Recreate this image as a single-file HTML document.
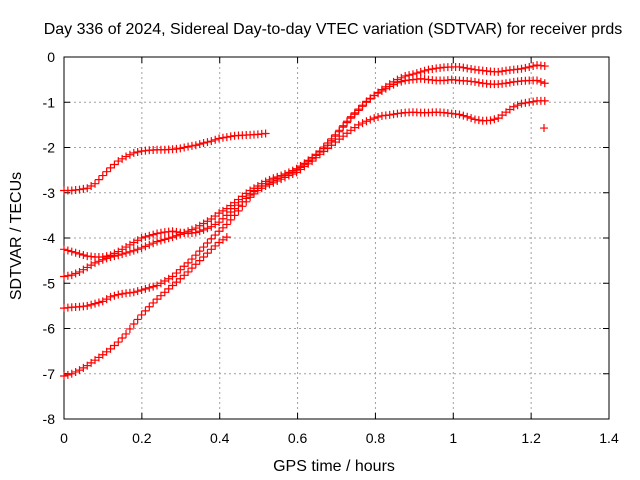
<!DOCTYPE html>
<html><head><meta charset="utf-8"><style>
body{margin:0;background:#fff}
svg{display:block;font-family:"Liberation Sans",sans-serif}
</style></head><body>
<svg id="chart" width="640" height="480">
<text x="333" y="34" text-anchor="middle" font-size="16">Day 336 of 2024, Sidereal Day-to-day VTEC variation (SDTVAR) for receiver prds</text>
<text x="334" y="471" text-anchor="middle" font-size="16">GPS time / hours</text>
<text transform="translate(21,236) rotate(-90)" text-anchor="middle" font-size="16">SDTVAR / TECUs</text>
<g id="grid"></g><g id="axes"></g><g id="marks"></g>
</svg>
<script>
const xTicks=[0,0.2,0.4,0.6,0.8,1,1.2,1.4];
const yTicks=[0,-1,-2,-3,-4,-5,-6,-7,-8];
const step=0.02;
const seriesA=[-2.95,-2.95,-2.93,-2.9,-2.8,-2.62,-2.45,-2.3,-2.2,-2.12,-2.08,-2.06,-2.05,-2.05,-2.04,-2.02,-1.98,-1.95,-1.9,-1.86,-1.8,-1.77,-1.74,-1.73,-1.72,-1.71,-1.69];
const seriesB=[-4.25,-4.3,-4.35,-4.4,-4.42,-4.42,-4.38,-4.3,-4.2,-4.1,-4.0,-3.95,-3.9,-3.87,-3.85,-3.88,-3.9,-3.88,-3.82,-3.75,-3.65,-3.5,-3.35,-3.2,-3.05,-2.9,-2.8,-2.72,-2.65,-2.58,-2.5,-2.38,-2.25,-2.1,-1.95,-1.75,-1.55,-1.35,-1.18,-1.0,-0.85,-0.72,-0.6,-0.5,-0.42,-0.38,-0.33,-0.28,-0.25,-0.23,-0.22,-0.22,-0.25,-0.28,-0.3,-0.32,-0.33,-0.3,-0.28,-0.26,-0.22,-0.18,-0.2];
const seriesC=[-4.85,-4.82,-4.75,-4.65,-4.55,-4.48,-4.42,-4.38,-4.33,-4.28,-4.22,-4.15,-4.08,-4.03,-3.98,-3.92,-3.85,-3.78,-3.68,-3.58,-3.45,-3.35,-3.22,-3.08,-2.95,-2.85,-2.75,-2.68,-2.62,-2.55,-2.47,-2.35,-2.22,-2.08,-1.9,-1.72,-1.52,-1.32,-1.15,-0.98,-0.85,-0.75,-0.65,-0.57,-0.52,-0.5,-0.48,-0.5,-0.52,-0.52,-0.5,-0.52,-0.53,-0.55,-0.58,-0.6,-0.6,-0.58,-0.55,-0.53,-0.52,-0.52,-0.58];
const seriesD=[-5.55,-5.53,-5.52,-5.5,-5.45,-5.4,-5.3,-5.25,-5.22,-5.2,-5.15,-5.1,-5.05,-4.95,-4.85,-4.7,-4.55,-4.38,-4.2,-4.02,-3.85,-3.7,-3.5,-3.3,-3.1,-2.95,-2.85,-2.78,-2.7,-2.62,-2.55,-2.42,-2.3,-2.15,-2.02,-1.88,-1.75,-1.62,-1.5,-1.42,-1.35,-1.3,-1.28,-1.25,-1.23,-1.22,-1.23,-1.23,-1.22,-1.23,-1.25,-1.27,-1.32,-1.38,-1.41,-1.4,-1.35,-1.22,-1.1,-1.03,-1.0,-0.97,-0.97];
const seriesE=[-7.05,-7.0,-6.92,-6.82,-6.7,-6.58,-6.45,-6.3,-6.12,-5.9,-5.7,-5.52,-5.35,-5.2,-5.05,-4.9,-4.75,-4.58,-4.42,-4.25,-4.1,-3.98];
const outlierT=[1.233];
const outlierV=[-1.57];
const L=64,R=609,T=57,B=419;
const tScale=1.235/1.24;
const xs=t=>L+(t/1.4)*(R-L);
const ys=v=>T+(-v/8)*(B-T);
const NS="http://www.w3.org/2000/svg";
function mk(tag,attrs,parent){const e=document.createElementNS(NS,tag);for(const k in attrs)e.setAttribute(k,attrs[k]);parent.appendChild(e);return e;}
const grid=document.getElementById('grid'),axes=document.getElementById('axes'),marks=document.getElementById('marks');
xTicks.forEach(t=>{const x=xs(t);
 if(t>0&&t<1.4){const g=mk('line',{x1:x,x2:x,y1:T,y2:B,stroke:'#a0a0a0','stroke-dasharray':'2,3'},grid);
 
 }
 mk('line',{x1:x,x2:x,y1:B,y2:B-6,stroke:'#000'},axes);mk('line',{x1:x,x2:x,y1:T,y2:T+6,stroke:'#000'},axes);
 const lb=mk('text',{x:x,y:B+24,'text-anchor':'middle','font-size':14},axes);lb.textContent=String(t);
 
 });
yTicks.forEach(v=>{const y=ys(v);
 if(v<0&&v>-8){const g=mk('line',{x1:L,x2:R,y1:y,y2:y,stroke:'#a0a0a0','stroke-dasharray':'2,3'},grid);
 
 }
 mk('line',{x1:L,x2:L+6,y1:y,y2:y,stroke:'#000'},axes);mk('line',{x1:R,x2:R-6,y1:y,y2:y,stroke:'#000'},axes);
 const lb=mk('text',{x:L-9,y:y+5,'text-anchor':'end','font-size':14},axes);lb.textContent=String(v);
 
 });
const fr=mk('rect',{x:L,y:T,width:R-L,height:B-T,fill:'none',stroke:'#000'},axes);


function plus(t,v,name){const x=xs(t),y=ys(v);const p=mk('path',{d:`M${x-4},${y}h8M${x},${y-4}v8`,stroke:'#f00','stroke-width':1.2,fill:'none'},marks);
 
 }
[[seriesA,'series-a-point'],[seriesB,'series-b-point'],[seriesC,'series-c-point'],[seriesD,'series-d-point'],[seriesE,'series-e-point']].forEach(([s,n])=>{
 s.forEach((v,i)=>{plus(i*step*tScale,v,n);if(i<s.length-1)plus((i*step+step/2)*tScale,(v+s[i+1])/2,n);});});
outlierT.forEach((t,i)=>plus(t,outlierV[i],'outlier-point'));
</script>
</body></html>
